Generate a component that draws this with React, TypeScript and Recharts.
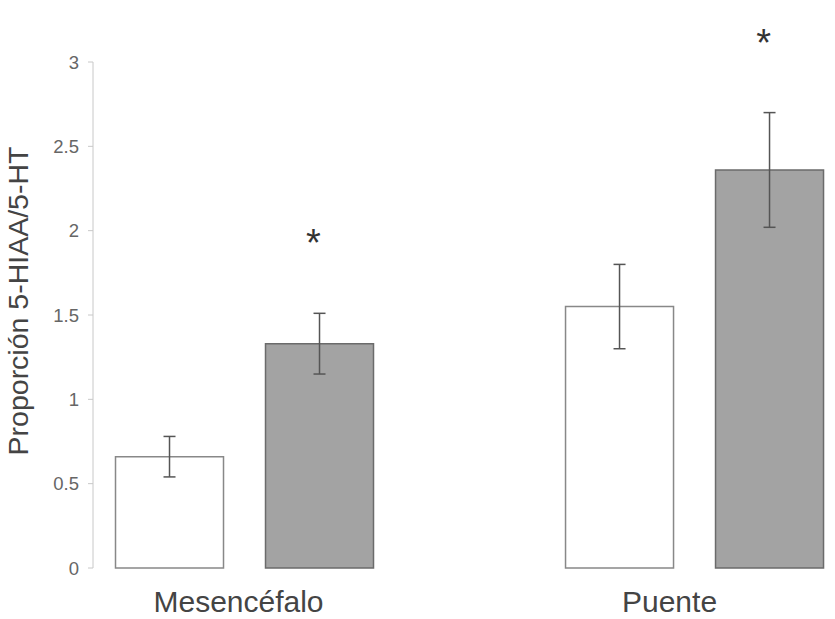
import { BarChart, Bar, XAxis, YAxis, ErrorBar, LabelList, Label } from 'recharts';

const categories = ['Mesencéfalo', 'Puente'];
const controlValues = [0.66, 1.55];
const controlErrors = [0.12, 0.25];
const treatedValues = [1.33, 2.36];
const treatedErrors = [0.18, 0.34];
const yTicks = [0, 0.5, 1, 1.5, 2, 2.5, 3];

const FONT = '"Liberation Sans", Arial, Helvetica, sans-serif';
// labels in the original sit a bit left of the bar groups
const labelShift: Record<string, number> = { 'Mesencéfalo': -6, 'Puente': -25 };

const data = categories.map((name, i) => ({
  pos: i,
  name,
  control: controlValues[i],
  controlErr: controlErrors[i],
  treated: treatedValues[i],
  treatedErr: treatedErrors[i],
}));

// asterisk sits a fixed distance above the top of the error bar
const Asterisk = (props: any) => {
  const { x, y, width, height, value, index } = props;
  const errTop = y - (treatedErrors[index] / value) * height;
  return (
    <text x={x + width / 2 - 6} y={errTop - 79 + 22} textAnchor="middle" fontSize={38} fill="#333" fontFamily={FONT}>
      *
    </text>
  );
};

const CategoryTick = (props: any) => {
  const { x, y, payload } = props;
  const label = categories[payload.value];
  return (
    <text x={x + (labelShift[label] || 0)} y={y} dy="0.71em" textAnchor="middle" fontSize={30} fill="#444" fontFamily={FONT}>
      {label}
    </text>
  );
};

const YTitle = (props: any) => {
  const { viewBox } = props;
  const cx = viewBox.x + 28;
  const cy = viewBox.y + viewBox.height / 2 - 14;
  return (
    <text x={cx} y={cy} transform={`rotate(-90, ${cx}, ${cy})`} textAnchor="middle" fontSize={28.5} fill="#444" fontFamily={FONT}>
      Proporción 5-HIAA/5-HT
    </text>
  );
};

export default function App() {
  return (
    <div style={{ position: 'absolute', left: 0, top: 0, width: 835, height: 619, background: '#fff' }}>
      <BarChart width={835} height={619} data={data} margin={{ top: 62, right: 5, bottom: 0, left: 0 }} barGap={42}>
        <XAxis
          type="number"
          dataKey="pos"
          domain={[-0.3367, 1.301]}
          allowDataOverflow
          ticks={[0, 1]}
          axisLine={false}
          tickLine={false}
          tickSize={6}
          tickMargin={17}
          height={51}
          tick={<CategoryTick />}
        />
        <YAxis
          domain={[0, 3]}
          ticks={yTicks}
          width={93}
          stroke="#c8c8c8"
          tickSize={5}
          tickMargin={9}
          tick={{ fontSize: 18.5, fill: '#666', fontFamily: FONT }}
        >
          <Label content={<YTitle />} />
        </YAxis>
        <Bar dataKey="control" barSize={108} fill="#ffffff" stroke="#888" strokeWidth={1.5} isAnimationActive={false}>
          <ErrorBar dataKey="controlErr" width={6} stroke="#555" strokeWidth={1.5} />
        </Bar>
        <Bar dataKey="treated" barSize={108} fill="#a3a3a3" stroke="#6b6b6b" strokeWidth={1.5} isAnimationActive={false}>
          <ErrorBar dataKey="treatedErr" width={6} stroke="#555" strokeWidth={1.5} />
          <LabelList dataKey="treated" content={<Asterisk />} />
        </Bar>
      </BarChart>
    </div>
  );
}
